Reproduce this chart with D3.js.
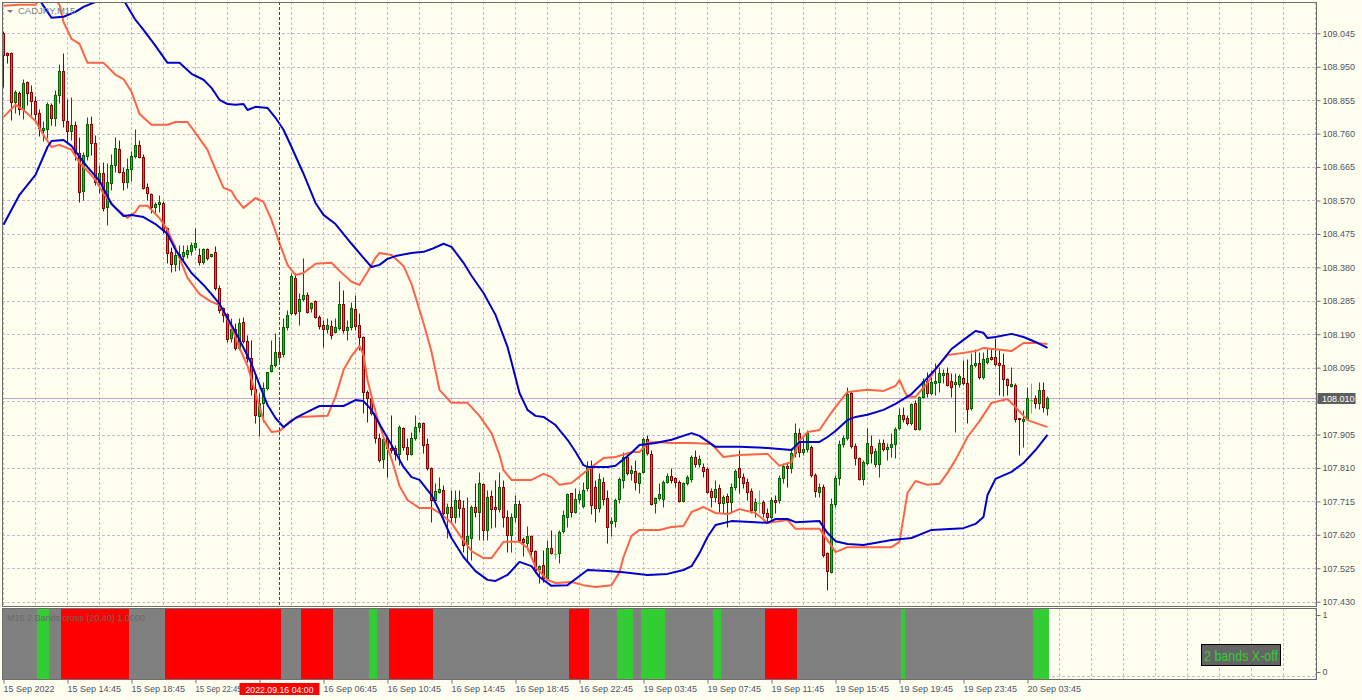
<!DOCTYPE html>
<html>
<head>
<meta charset="utf-8">
<script src="https://cdn.jsdelivr.net/npm/d3@7/dist/d3.min.js"></script>
<style>
html,body{margin:0;padding:0;background:#fffff0;overflow:hidden;}
svg{display:block;}
</style>
</head>
<body>
<svg id="chart" width="1362" height="700"></svg>
<script>
// ---------------- DATA ----------------
const symbolLabel = "CADJPY,M15";
const indicatorLabel = "M15 2 Bands cross (20,40) 1.0000";
const statusLabel = "2 bands X-off";
const cursorLabel = "2022.09.16 04:00";
const cursorBar = 69;
const lastPrice = 108.010;

const timeTickBars = [0,16,32,48,64,80,96,112,128,144,160,176,192,208,224,240,256];
// "16 Sep 02:45" (bar 64) sits under the cursor time box and is not visible
const timeLabels = ["15 Sep 2022","15 Sep 14:45","15 Sep 18:45","15 Sep 22:45","","16 Sep 06:45",
  "16 Sep 10:45","16 Sep 14:45","16 Sep 18:45","16 Sep 22:45","19 Sep 03:45","19 Sep 07:45","19 Sep 11:45",
  "19 Sep 15:45","19 Sep 19:45","19 Sep 23:45","20 Sep 03:45"];
const priceTicks = [109.045,108.950,108.855,108.760,108.665,108.570,108.475,108.380,108.285,108.190,
  108.095,108.000,107.905,107.810,107.715,107.620,107.525,107.430];

const open = [109.046,108.989,108.989,108.850,108.876,108.830,108.907,108.879,108.853,108.819,
108.771,108.773,108.842,108.805,108.870,108.938,108.796,108.768,108.785,108.705,
108.597,108.697,108.788,108.734,108.623,108.648,108.552,108.620,108.671,108.717,
108.651,108.623,108.660,108.697,108.728,108.694,108.609,108.589,108.552,108.560,
108.563,108.492,108.424,108.390,108.410,108.413,108.418,108.427,108.438,108.415,
108.396,108.432,108.413,108.424,108.322,108.265,108.248,108.179,108.205,108.151,
108.225,108.171,108.123,108.034,107.958,107.995,108.037,108.086,108.103,108.140,
108.134,108.211,108.251,108.350,108.256,108.290,108.302,108.265,108.285,108.239,
108.216,108.205,108.213,108.197,108.208,108.276,108.202,108.211,108.262,108.216,
108.182,108.026,108.009,107.966,107.895,107.836,107.895,107.867,107.867,107.850,
107.924,107.869,107.850,107.895,107.926,107.938,107.878,107.810,107.719,107.742,
107.747,107.682,107.699,107.671,107.719,107.696,107.594,107.611,107.699,107.685,
107.764,107.634,107.730,107.699,107.693,107.756,107.671,107.620,107.671,107.708,
107.608,107.597,107.617,107.574,107.523,107.534,107.497,107.583,107.565,107.568,
107.631,107.671,107.739,107.685,107.722,107.702,107.753,107.813,107.756,107.696,
107.770,107.725,107.654,107.660,107.722,107.776,107.841,107.796,107.802,107.767,
107.799,107.892,107.850,107.710,107.725,107.722,107.770,107.787,107.782,107.770,
107.716,107.767,107.779,107.841,107.822,107.813,107.807,107.745,107.728,107.753,
107.710,107.730,107.713,107.756,107.810,107.784,107.770,107.745,107.691,107.710,
107.713,107.682,107.671,107.719,107.719,107.782,107.816,107.810,107.853,107.909,
107.855,107.864,107.869,107.790,107.742,107.756,107.568,107.514,107.708,107.782,
107.878,107.895,108.023,107.873,107.839,107.779,107.824,107.873,107.822,107.822,
107.881,107.864,107.869,107.878,107.924,107.961,107.952,107.938,107.995,107.921,
108.012,108.057,108.023,108.051,108.054,108.074,108.080,108.057,108.049,108.049,
108.066,108.051,107.981,108.103,108.108,108.069,108.111,108.126,108.126,108.108,
108.103,108.063,108.043,108.046,107.952,107.944,107.950,108.003,108.009,107.995,
108.032,107.981];
const high = [109.052,108.992,108.992,108.884,108.881,108.916,108.910,108.898,108.867,108.830,
108.796,108.850,108.847,108.884,108.958,108.989,108.859,108.864,108.796,108.751,
108.708,108.808,108.810,108.756,108.671,108.680,108.677,108.702,108.751,108.742,
108.665,108.691,108.711,108.773,108.742,108.702,108.620,108.591,108.566,108.586,
108.569,108.495,108.438,108.444,108.444,108.444,108.444,108.452,108.492,108.435,
108.435,108.435,108.418,108.441,108.330,108.267,108.251,108.236,108.222,108.236,
108.239,108.188,108.174,108.080,108.023,108.054,108.066,108.174,108.194,108.174,
108.236,108.259,108.364,108.364,108.307,108.407,108.310,108.282,108.287,108.245,
108.231,108.236,108.231,108.236,108.341,108.316,108.231,108.282,108.302,108.251,
108.185,108.032,108.023,107.980,107.909,107.904,107.898,107.961,107.875,107.932,
107.926,107.895,107.912,107.961,107.941,107.941,107.895,107.813,107.767,107.784,
107.762,107.710,107.747,107.747,107.747,107.719,107.728,107.705,107.767,107.799,
107.767,107.747,107.747,107.776,107.799,107.776,107.691,107.682,107.733,107.719,
107.614,107.645,107.620,107.577,107.534,107.577,107.605,107.634,107.622,107.634,
107.691,107.739,107.739,107.753,107.747,107.770,107.830,107.833,107.776,107.796,
107.784,107.747,107.671,107.725,107.784,107.856,107.850,107.819,107.833,107.799,
107.898,107.904,107.861,107.728,107.767,107.776,107.796,107.810,107.784,107.776,
107.770,107.790,107.847,107.861,107.847,107.824,107.813,107.753,107.776,107.764,
107.733,107.739,107.767,107.807,107.861,107.796,107.782,107.753,107.725,107.747,
107.719,107.696,107.728,107.733,107.790,107.824,107.827,107.867,107.938,107.924,
107.895,107.918,107.875,107.796,107.767,107.764,107.571,107.725,107.790,107.890,
107.904,108.040,108.029,107.881,107.841,107.833,107.924,107.904,107.867,107.892,
107.892,107.881,107.909,107.926,107.980,107.983,107.961,107.995,108.003,108.014,
108.066,108.083,108.088,108.108,108.097,108.091,108.097,108.080,108.080,108.077,
108.117,108.120,108.137,108.148,108.140,108.140,108.151,108.148,108.179,108.145,
108.137,108.066,108.097,108.051,107.952,107.975,108.040,108.051,108.017,108.054,
108.054,108.014];
const low = [108.893,108.961,108.799,108.819,108.813,108.802,108.842,108.813,108.793,108.753,
108.739,108.748,108.785,108.782,108.847,108.779,108.736,108.742,108.685,108.566,
108.572,108.685,108.699,108.614,108.591,108.540,108.501,108.600,108.651,108.648,
108.600,108.606,108.626,108.691,108.691,108.603,108.572,108.535,108.532,108.537,
108.478,108.393,108.367,108.370,108.373,108.401,108.407,108.415,108.430,108.387,
108.390,108.401,108.410,108.316,108.251,108.225,108.168,108.168,108.145,108.145,
108.165,108.111,108.017,107.938,107.901,107.941,108.032,108.083,108.097,108.111,
108.126,108.202,108.245,108.245,108.216,108.285,108.251,108.253,108.236,108.205,
108.154,108.194,108.177,108.194,108.202,108.194,108.174,108.202,108.202,108.145,
107.966,107.941,107.961,107.881,107.827,107.810,107.784,107.853,107.833,107.819,
107.861,107.833,107.847,107.890,107.912,107.853,107.804,107.657,107.710,107.739,
107.657,107.611,107.657,107.654,107.671,107.571,107.543,107.549,107.671,107.605,
107.605,107.605,107.640,107.643,107.685,107.643,107.571,107.571,107.657,107.600,
107.560,107.577,107.557,107.512,107.483,107.486,107.492,107.565,107.551,107.540,
107.625,107.643,107.671,107.682,107.710,107.696,107.745,107.680,107.657,107.685,
107.705,107.597,107.617,107.643,107.710,107.753,107.790,107.776,107.747,107.739,
107.796,107.847,107.705,107.682,107.719,107.699,107.767,107.767,107.756,107.713,
107.713,107.762,107.770,107.813,107.813,107.784,107.739,107.699,107.713,107.685,
107.682,107.643,107.682,107.747,107.739,107.753,107.719,107.682,107.671,107.682,
107.671,107.657,107.665,107.682,107.710,107.767,107.756,107.796,107.841,107.841,
107.847,107.855,107.784,107.728,107.728,107.557,107.463,107.512,107.699,107.762,
107.869,107.890,107.867,107.819,107.776,107.762,107.819,107.824,107.813,107.784,
107.858,107.833,107.841,107.839,107.918,107.941,107.932,107.932,107.918,107.918,
108.009,108.012,108.017,108.017,108.026,108.051,108.043,108.012,107.912,108.040,
108.046,107.938,107.975,108.097,108.063,108.063,108.105,108.117,108.100,108.017,
108.014,108.017,108.040,107.941,107.847,107.869,107.947,107.966,107.980,107.978,
107.969,107.961];
const close = [108.984,108.984,108.850,108.879,108.830,108.904,108.876,108.853,108.816,108.776,
108.776,108.844,108.805,108.870,108.938,108.799,108.768,108.785,108.705,108.594,
108.699,108.788,108.734,108.623,108.648,108.549,108.623,108.671,108.719,108.651,
108.623,108.660,108.697,108.728,108.694,108.606,108.591,108.552,108.560,108.566,
108.486,108.421,108.390,108.415,108.418,108.424,108.430,108.444,108.449,108.396,
108.432,108.407,108.418,108.322,108.259,108.245,108.177,108.205,108.151,108.222,
108.171,108.123,108.034,107.961,107.995,108.037,108.083,108.103,108.140,108.126,
108.211,108.245,108.356,108.251,108.290,108.302,108.253,108.279,108.239,108.213,
108.205,108.216,108.188,108.211,108.276,108.202,108.211,108.265,108.213,108.182,
108.026,108.009,107.966,107.895,107.833,107.892,107.867,107.861,107.850,107.926,
107.869,107.850,107.895,107.926,107.938,107.875,107.810,107.719,107.745,107.750,
107.682,107.699,107.671,107.719,107.696,107.591,107.617,107.699,107.685,107.767,
107.634,107.728,107.693,107.693,107.756,107.671,107.620,107.671,107.708,107.605,
107.600,107.617,107.574,107.520,107.532,107.497,107.583,107.568,107.565,107.628,
107.677,107.736,107.685,107.722,107.736,107.747,107.813,107.705,107.696,107.779,
107.722,107.643,107.660,107.719,107.779,107.841,107.796,107.804,107.770,107.796,
107.892,107.853,107.708,107.725,107.736,107.770,107.787,107.776,107.770,107.716,
107.767,107.784,107.841,107.822,107.836,107.802,107.742,107.728,107.750,107.710,
107.728,107.713,107.756,107.802,107.784,107.767,107.742,107.691,107.713,107.710,
107.682,107.671,107.719,107.713,107.782,107.816,107.810,107.853,107.909,107.855,
107.864,107.909,107.790,107.745,107.756,107.563,107.517,107.708,107.782,107.878,
107.895,108.020,107.873,107.839,107.779,107.827,107.881,107.853,107.858,107.881,
107.864,107.869,107.878,107.921,107.961,107.950,107.938,107.992,107.921,108.012,
108.057,108.023,108.054,108.057,108.080,108.080,108.046,108.040,108.054,108.071,
108.051,107.978,108.103,108.108,108.069,108.120,108.123,108.120,108.105,108.103,
108.063,108.046,108.049,107.950,107.950,107.950,108.009,108.003,107.995,108.032,
107.983,108.010];

// Bollinger (20) – red, [bar, price]
const redUpper = [[0,109.123],[4,109.126],[8,109.126],[10,109.157],[12,109.154],[14,109.126],[15,109.077],
[17,109.029],[19,109.015],[21,108.961],[25,108.961],[28,108.927],[30,108.915],[32,108.879],[34,108.816],
[37,108.785],[41,108.785],[43,108.793],[46,108.793],[48,108.762],[51,108.714],[52,108.685],[55,108.606],
[57,108.597],[58,108.577],[60,108.549],[63,108.577],[65,108.566],[67,108.515],[69,108.449],[71,108.387],
[73,108.358],[75,108.364],[78,108.390],[82,108.393],[84,108.370],[87,108.339],[89,108.330],[91,108.367],
[93,108.407],[94,108.421],[97,108.415],[100,108.384],[102,108.333],[105,108.222],[107,108.140],[109,108.032],
[112,107.995],[116,107.995],[119,107.958],[122,107.909],[124,107.847],[125,107.804],[127,107.776],[132,107.776],
[135,107.793],[137,107.784],[139,107.762],[142,107.767],[146,107.804],[150,107.838],[153,107.841],[157,107.855],
[159,107.855],[161,107.881],[163,107.884],[167,107.881],[172,107.881],[177,107.878],[180,107.841],[184,107.847],
[191,107.850],[194,107.816],[197,107.827],[199,107.887],[201,107.912],[204,107.918],[206,107.952],[208,107.983],
[211,108.026],[216,108.032],[220,108.029],[223,108.043],[224,108.060],[225,108.034],[226,108.012],[228,108.012],
[231,108.052],[233,108.091],[236,108.131],[240,108.137],[243,108.142],[245,108.151],[252,108.142],[255,108.165],
[258,108.165],[261,108.162]];
const redLower = [[0,108.807],[3,108.842],[5,108.827],[8,108.796],[10,108.756],[12,108.722],[14,108.728],
[17,108.714],[19,108.677],[21,108.654],[23,108.628],[25,108.589],[28,108.549],[31,108.520],[33,108.538],
[34,108.555],[36,108.555],[39,108.520],[41,108.486],[43,108.435],[46,108.350],[49,108.304],[52,108.282],
[54,108.273],[57,108.211],[59,108.151],[61,108.100],[63,108.023],[65,107.946],[67,107.912],[69,107.915],
[72,107.946],[74,107.955],[81,107.958],[83,108.012],[85,108.088],[87,108.128],[89,108.157],[90,108.131],
[91,108.060],[93,107.969],[95,107.898],[97,107.836],[99,107.759],[101,107.719],[104,107.696],[107,107.696],
[109,107.682],[112,107.654],[114,107.620],[117,107.574],[120,107.554],[122,107.554],[125,107.600],[129,107.600],
[131,107.583],[133,107.529],[136,107.492],[138,107.483],[142,107.486],[145,107.477],[148,107.472],[152,107.477],
[154,107.514],[155,107.557],[157,107.617],[159,107.634],[164,107.634],[167,107.642],[170,107.645],[172,107.685],
[175,107.699],[178,107.682],[181,107.679],[184,107.693],[188,107.682],[191,107.654],[196,107.662],[198,107.637],
[204,107.637],[206,107.605],[208,107.571],[211,107.585],[222,107.585],[224,107.600],[226,107.739],[228,107.773],
[231,107.762],[234,107.765],[236,107.796],[238,107.833],[241,107.898],[244,107.943],[247,107.995],[251,108.006],
[253,107.983],[256,107.946],[261,107.926]];
// Bollinger (40) – blue, [bar, price]
const blueUpper = [[0,109.225],[9,109.140],[11,109.106],[12,109.089],[15,109.092],[18,109.106],[20,109.120],
[23,109.134],[27,109.157],[30,109.140],[33,109.083],[35,109.055],[38,109.009],[41,108.961],[44,108.961],
[47,108.930],[50,108.913],[52,108.890],[54,108.856],[56,108.844],[58,108.842],[60,108.844],[61,108.827],
[63,108.836],[66,108.833],[68,108.805],[70,108.771],[72,108.722],[75,108.646],[78,108.563],[80,108.529],
[83,108.503],[87,108.447],[90,108.407],[92,108.381],[94,108.387],[96,108.404],[98,108.412],[102,108.421],
[105,108.424],[107,108.432],[110,108.447],[112,108.438],[115,108.393],[117,108.356],[120,108.307],[123,108.245],
[126,108.154],[127,108.111],[129,108.023],[131,107.975],[133,107.958],[135,107.955],[138,107.932],[141,107.890],
[143,107.856],[145,107.818],[146,107.813],[151,107.813],[153,107.816],[157,107.853],[159,107.875],[163,107.881],
[167,107.890],[172,107.909],[174,107.901],[178,107.870],[184,107.870],[191,107.867],[197,107.861],[199,107.884],
[204,107.884],[206,107.898],[208,107.915],[211,107.946],[213,107.955],[216,107.961],[220,107.975],[223,107.992],
[227,108.020],[230,108.054],[233,108.091],[237,108.148],[240,108.174],[243,108.199],[245,108.194],[246,108.179],
[248,108.182],[252,108.191],[255,108.182],[258,108.168],[261,108.151]];
const blueLower = [[0,108.501],[4,108.586],[8,108.643],[11,108.722],[12,108.739],[15,108.742],[17,108.725],
[19,108.694],[21,108.665],[24,108.626],[27,108.560],[30,108.526],[32,108.529],[35,108.523],[38,108.503],
[41,108.475],[43,108.430],[47,108.364],[50,108.330],[52,108.304],[54,108.276],[57,108.216],[59,108.174],
[62,108.106],[64,108.046],[66,107.989],[68,107.952],[70,107.926],[73,107.952],[77,107.975],[79,107.986],
[85,107.986],[88,108.003],[90,108.000],[92,107.975],[97,107.875],[100,107.813],[102,107.784],[104,107.776],
[107,107.733],[109,107.688],[112,107.611],[115,107.557],[118,107.517],[121,107.492],[123,107.489],[126,107.506],
[129,107.543],[132,107.531],[134,107.500],[137,107.475],[141,107.477],[144,107.503],[146,107.520],[151,107.517],
[155,107.514],[161,107.506],[166,107.509],[170,107.520],[172,107.531],[174,107.568],[176,107.614],[178,107.648],
[182,107.659],[188,107.656],[191,107.654],[193,107.665],[196,107.665],[198,107.656],[204,107.659],[206,107.625],
[208,107.602],[211,107.594],[215,107.591],[222,107.605],[227,107.611],[232,107.634],[240,107.639],[243,107.651],
[245,107.671],[246,107.733],[248,107.779],[252,107.799],[255,107.824],[258,107.861],[261,107.904]];

// 2 Bands cross signal: [state, number of bars]  (0 none, 1 up-cross, -1 down-cross)
const signalRuns = [[0,9],[1,3],[0,3],[-1,17],[0,9],[-1,29],[0,5],[-1,8],[0,9],[1,2],[0,3],[-1,11],
[0,34],[-1,5],[0,7],[1,4],[0,2],[1,6],[0,12],[1,2],[0,11],[-1,8],[0,26],[1,1],[0,32],[1,4]];

// ---------------- CHART ----------------
const W = 1362, H = 700;
const L = 2, R = 1316, T = 2, B = 606, ST = 608, SB = 679;
const FONT = "'Liberation Sans', Arial, sans-serif";
const GRID = "#ccb8d6", FRAME = "#6e6e6e", AXTXT = "#4d5566";
const BG = "#fffff0";

const svg = d3.select("#chart");
const x = d3.scaleLinear().domain([0, 261]).range([3.5, 1047.5]);
const y = d3.scaleLinear().domain([107.430, 109.045]).range([601.7, 33.3]);
const ys = d3.scaleLinear().domain([0, 1]).range([672, 615]);
const py = v => Math.round(y(v)) + 0.5;

svg.append("rect").attr("width", W).attr("height", H).attr("fill", BG);

const defs = svg.append("defs");
defs.append("clipPath").attr("id", "clipMain").append("rect")
  .attr("x", L + 1).attr("y", T + 1).attr("width", R - L - 1).attr("height", B - T - 1);
defs.append("clipPath").attr("id", "clipSub").append("rect")
  .attr("x", L + 1).attr("y", ST + 1).attr("width", R - L - 1).attr("height", SB - ST - 1);

const gMain = svg.append("g").attr("clip-path", "url(#clipMain)");
const gSub = svg.append("g").attr("clip-path", "url(#clipSub)");

// grid
const gridBars = d3.range(0, 330, 8);
gMain.selectAll("line.vg").data(gridBars).join("line").attr("class", "vg")
  .attr("x1", d => x(d)).attr("x2", d => x(d)).attr("y1", T).attr("y2", B)
  .attr("stroke", GRID).attr("stroke-dasharray", "3,2");
gMain.selectAll("line.hg").data(priceTicks).join("line").attr("class", "hg")
  .attr("x1", L).attr("x2", R).attr("y1", d => py(d)).attr("y2", d => py(d))
  .attr("stroke", GRID).attr("stroke-dasharray", "3,2");
gMain.append("line").attr("x1", L).attr("x2", R)
  .attr("y1", py(lastPrice)).attr("y2", py(lastPrice)).attr("stroke", "#c8a4d4");

// candles
const BULL = { body: "#19c019", edge: "#006400" };
const BEAR = { body: "#e8503a", edge: "#8b0000" };
const DOJI = "#00ff00";
const cg = gMain.append("g");
d3.range(open.length).forEach(i => {
  const xc = x(i);
  const o = open[i], c = close[i];
  if (o === c) {
    cg.append("line").attr("x1", xc).attr("x2", xc).attr("y1", py(high[i])).attr("y2", py(low[i])).attr("stroke", DOJI);
    cg.append("line").attr("x1", xc - 1.5).attr("x2", xc + 1.5).attr("y1", py(o)).attr("y2", py(o)).attr("stroke", DOJI);
    return;
  }
  const col = c > o ? BULL : BEAR;
  cg.append("line").attr("x1", xc).attr("x2", xc).attr("y1", py(high[i])).attr("y2", py(low[i])).attr("stroke", col.edge);
  const yt = py(Math.max(o, c)), yb = py(Math.min(o, c));
  cg.append("rect").attr("x", xc - 1).attr("y", yt).attr("width", 2).attr("height", Math.max(yb - yt, 1))
    .attr("fill", col.body).attr("stroke", col.edge).attr("stroke-width", 1);
});

// bands
const line = d3.line().x(d => x(d[0])).y(d => y(d[1]));
[[redUpper, "#ff6347"], [redLower, "#ff6347"], [blueUpper, "#0000cd"], [blueLower, "#0000cd"]].forEach(([data, col]) => {
  gMain.append("path").datum(data).attr("d", line).attr("fill", "none")
    .attr("stroke", col).attr("stroke-width", 2).attr("stroke-linejoin", "round");
});

// crosshair
gMain.append("line").attr("x1", x(cursorBar)).attr("x2", x(cursorBar)).attr("y1", T).attr("y2", B)
  .attr("stroke", "#dd0000").attr("stroke-dasharray", "3,2");

// title
svg.append("path").attr("d", "M7,10 L13,10 L10,13 Z").attr("fill", "#7a7a7a");
svg.append("text").attr("x", 18).attr("y", 14).attr("font-family", FONT).attr("font-size", 9.5)
  .attr("fill", "#7a7f8a").text(symbolLabel);

// ---- sub window ----
const signal = [];
signalRuns.forEach(([s, n]) => { for (let k = 0; k < n; k++) signal.push(s); });
gSub.selectAll("line.vg").data(gridBars).join("line").attr("class", "vg")
  .attr("x1", d => x(d)).attr("x2", d => x(d)).attr("y1", ST).attr("y2", SB)
  .attr("stroke", GRID).attr("stroke-dasharray", "3,2");
gSub.append("line").attr("x1", L).attr("x2", R).attr("y1", SB - 2.5).attr("y2", SB - 2.5)
  .attr("stroke", GRID).attr("stroke-dasharray", "3,2");
const sigColor = { "0": "#808080", "1": "#32cd32", "-1": "#ff0000" };
gSub.selectAll("rect.sig").data(signal).join("rect").attr("class", "sig")
  .attr("x", (d, i) => x(i) - 2.5).attr("width", 4)
  .attr("y", ST + 1).attr("height", SB - ST - 1)
  .attr("fill", d => sigColor[String(d)]);
svg.append("text").attr("x", 7).attr("y", 621).attr("font-family", FONT).attr("font-size", 9)
  .attr("fill", "#686868").text(indicatorLabel);

// frames
svg.append("rect").attr("x", L + 0.5).attr("y", T + 0.5).attr("width", R - L).attr("height", B - T)
  .attr("fill", "none").attr("stroke", FRAME);
svg.append("rect").attr("x", L + 0.5).attr("y", ST + 0.5).attr("width", R - L).attr("height", SB - ST)
  .attr("fill", "none").attr("stroke", FRAME);

// price axis
const ay = svg.append("g").attr("transform", `translate(${R + 0.5},0)`)
  .call(d3.axisRight(y).tickValues(priceTicks).tickFormat(d3.format(".3f")).tickSize(4).tickPadding(2));
ay.select(".domain").remove();
ay.attr("font-family", FONT).attr("font-size", 9);
ay.selectAll("line").attr("stroke", FRAME);
ay.selectAll("text").attr("fill", AXTXT);

// sub axis
const as = svg.append("g").attr("transform", `translate(${R + 0.5},0)`)
  .call(d3.axisRight(ys).tickValues([0, 1]).tickFormat(d3.format("d")).tickSize(4).tickPadding(2));
as.select(".domain").remove();
as.attr("font-family", FONT).attr("font-size", 9);
as.selectAll("line").attr("stroke", FRAME);
as.selectAll("text").attr("fill", AXTXT);

// time axis
const ax = svg.append("g").attr("transform", `translate(0,${SB + 0.5})`)
  .call(d3.axisBottom(x).tickValues(timeTickBars).tickFormat((d, i) => timeLabels[i]).tickSize(4).tickPadding(2));
ax.select(".domain").remove();
ax.attr("font-family", FONT).attr("font-size", 9);
ax.selectAll("line").attr("stroke", FRAME);
ax.selectAll("text").attr("fill", AXTXT).attr("text-anchor", "start").attr("x", -0.5).attr("dy", null).attr("y", 12.5);
// the label just left of the cursor box runs under the box: keep it short of the box text
ax.selectAll(".tick").filter(d => d === 48).select("text")
  .attr("textLength", 46).attr("lengthAdjust", "spacingAndGlyphs");

// last price label
svg.append("rect").attr("x", R + 1.5).attr("y", py(lastPrice) - 5.5).attr("width", 38).attr("height", 11).attr("fill", "#5e5e5e");
svg.append("text").attr("x", R + 6).attr("y", py(lastPrice) + 3.5).attr("font-family", FONT).attr("font-size", 9)
  .attr("fill", "#ffffff").text(lastPrice.toFixed(3));

// cursor time label
svg.append("rect").attr("x", x(cursorBar) - 40).attr("y", 683).attr("width", 80).attr("height", 12).attr("fill", "#ff0000");
svg.append("text").attr("x", x(cursorBar)).attr("y", 692.5).attr("text-anchor", "middle")
  .attr("font-family", FONT).attr("font-size", 9).attr("textLength", 68).attr("lengthAdjust", "spacingAndGlyphs")
  .attr("fill", "#ffffff").text(cursorLabel);

// status box
svg.append("rect").attr("x", 1201.5).attr("y", 644.5).attr("width", 79).attr("height", 21)
  .attr("fill", "#646464").attr("stroke", "#000000");
svg.append("text").attr("x", 1241).attr("y", 660.5).attr("text-anchor", "middle")
  .attr("font-family", FONT).attr("font-size", 14.5).attr("textLength", 74).attr("lengthAdjust", "spacingAndGlyphs")
  .attr("fill", "#32cd32").text(statusLabel);
</script>
</body>
</html>
